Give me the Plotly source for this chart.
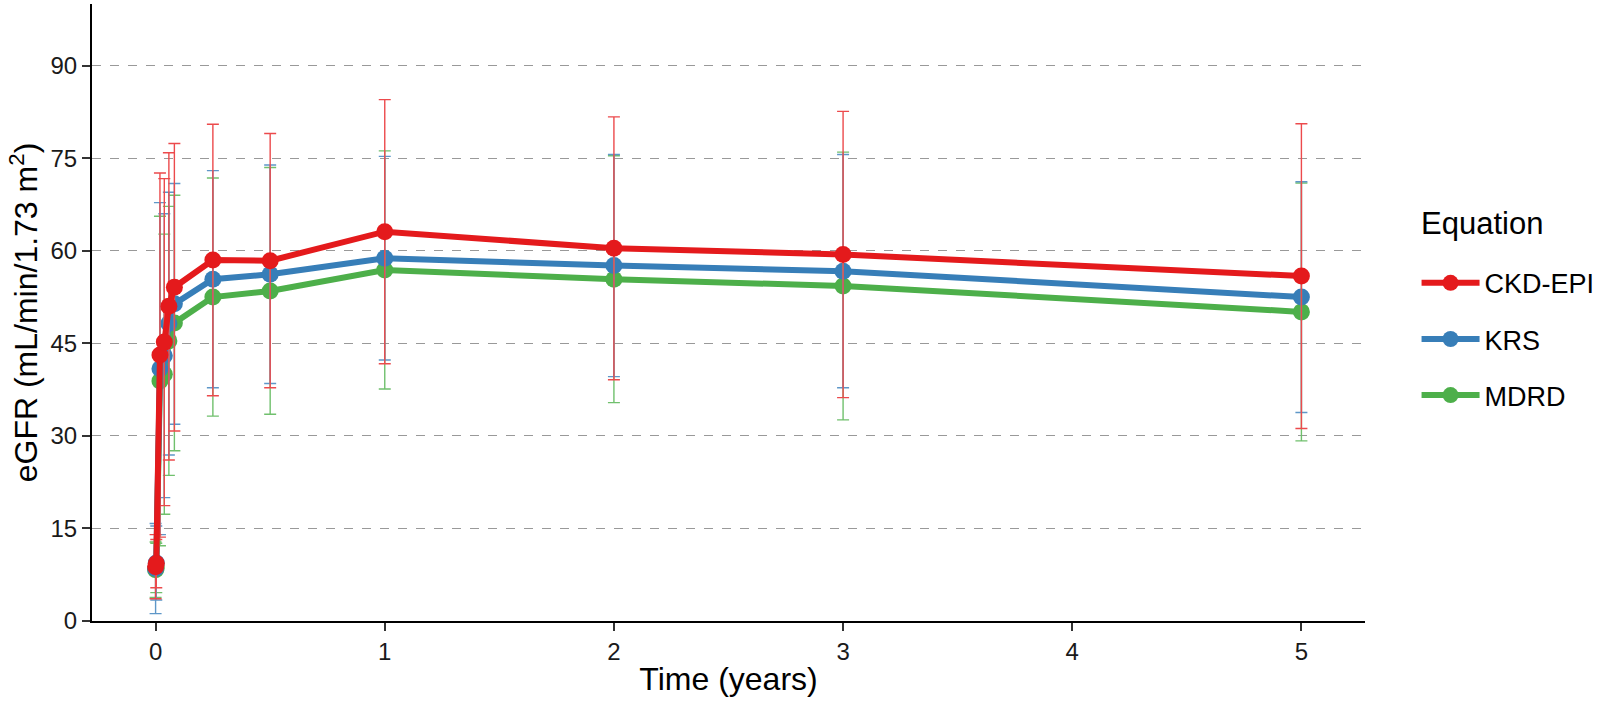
import plotly.graph_objects as go

# time points in years: baseline, day 1, weeks 1-3, month 1, 3 & 6 months, years 1-5
time_years = [0, 0.003, 0.019, 0.038, 0.058, 0.082, 0.25, 0.5, 1, 2, 3, 5]

ckd_epi_mean = [8.8, 9.3, 43.1, 45.2, 51.0, 54.1, 58.5, 58.4, 63.1, 60.4, 59.4, 55.9]
ckd_epi_sd = [5.2, 3.9, 29.5, 26.5, 24.9, 23.3, 22.0, 20.6, 21.4, 21.3, 23.2, 24.7]

krs_mean = [8.5, 9.4, 40.9, 43.0, 48.2, 51.4, 55.4, 56.2, 58.8, 57.6, 56.7, 52.5]
krs_sd = [7.3, 6.0, 26.9, 23.0, 21.3, 19.5, 17.6, 17.7, 16.5, 18.0, 18.9, 18.7]

mdrd_mean = [8.3, 8.6, 38.9, 40.0, 45.4, 48.3, 52.5, 53.5, 56.9, 55.4, 54.3, 50.1]
mdrd_sd = [4.5, 4.0, 26.7, 22.7, 21.8, 20.7, 19.3, 20.0, 19.3, 20.0, 21.7, 20.9]

y_ticks = [0, 15, 30, 45, 60, 75, 90]
x_ticks = [0, 1, 2, 3, 4, 5]

# name: (mean, sd, line colour, error bar colour, legend rank)
series = {
    "CKD-EPI": (ckd_epi_mean, ckd_epi_sd, "#E41A1C", "#EC4A4C", 1),
    "KRS": (krs_mean, krs_sd, "#377EB8", "#5E97C8", 2),
    "MDRD": (mdrd_mean, mdrd_sd, "#4DAF4A", "#70C06D", 3),
}

FONT = "Liberation Sans, Arial, sans-serif"


def line_trace(name):
    mean, sd, col, ecol, rank = series[name]
    return go.Scatter(x=time_years, y=mean, name=name, mode="lines+markers",
                      line=dict(color=col, width=6), marker=dict(color=col, size=17),
                      legendgroup=name, legendrank=rank)


def err_trace(name):
    mean, sd, col, ecol, rank = series[name]
    return go.Scatter(x=time_years, y=mean, mode="markers", showlegend=False,
                      marker=dict(color="rgba(0,0,0,0)", size=1),
                      error_y=dict(type="data", array=sd, visible=True,
                                   color=ecol, thickness=1.4, width=6),
                      hoverinfo="skip")


fig = go.Figure()
# draw order: green/blue lines, then error bars, then red on top
fig.add_trace(line_trace("MDRD"))
fig.add_trace(line_trace("KRS"))
fig.add_trace(err_trace("MDRD"))
fig.add_trace(err_trace("KRS"))
fig.add_trace(err_trace("CKD-EPI"))
fig.add_trace(line_trace("CKD-EPI"))

fig.update_layout(
    width=1600, height=704,
    margin=dict(l=92, r=235, t=4, b=83, autoexpand=False),
    paper_bgcolor="white", plot_bgcolor="white",
    font=dict(family=FONT, color="#1a1a1a"),
    legend=dict(
        font=dict(size=27, color="black"),
        x=1.0405, y=0.587, xanchor="left", yanchor="top",
        tracegroupgap=18, itemwidth=58,
    ),
    annotations=[dict(text="Equation", x=1.0425, y=0.645, xref="paper", yref="paper",
                      xanchor="left", yanchor="middle", showarrow=False,
                      font=dict(size=31, family=FONT, color="black"))],
)

fig.update_xaxes(
    range=[-0.2775, 5.2775], tickvals=x_ticks, ticks="outside", ticklen=8,
    tickwidth=1.5, tickcolor="#333333", showline=True, linecolor="black",
    linewidth=2, showgrid=False, zeroline=False,
    tickfont=dict(size=24, family=FONT, color="#1a1a1a"),
    title=dict(text="Time (years)", font=dict(size=32, family=FONT, color="black"),
               standoff=4),
)

fig.update_yaxes(
    range=[0, 100], tickvals=y_ticks, ticks="outside", ticklen=8,
    tickwidth=1.5, tickcolor="#333333", showline=True, linecolor="black",
    linewidth=2, showgrid=True, gridcolor="#999999", griddash="dash",
    gridwidth=1.3, zeroline=False,
    tickfont=dict(size=24, family=FONT, color="#1a1a1a"),
    title=dict(text="eGFR (mL/min/1.73 m<sup>2</sup>)",
               font=dict(size=32, family=FONT, color="black"), standoff=3),
)

# page body has an 8px default margin; drop it so the figure sits at the corner
fig.write_html("out.html", config={"displayModeBar": False},
               post_script="document.body.style.margin='0px';")
